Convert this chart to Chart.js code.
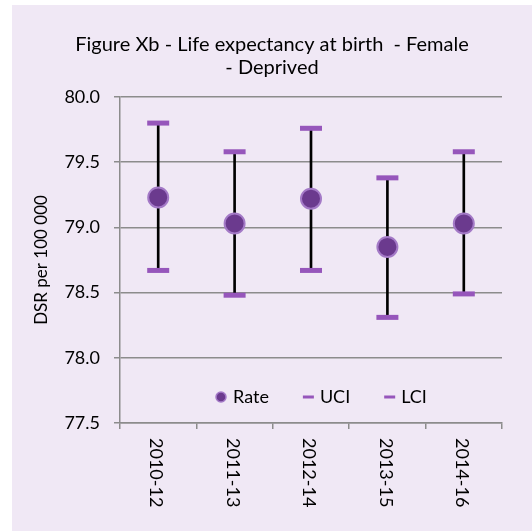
<!DOCTYPE html>
<html>
<head>
<meta charset="utf-8">
<script src="https://cdn.jsdelivr.net/npm/chart.js@4.4.1/dist/chart.umd.min.js"></script>
<style>
  body { margin: 0; background: #ffffff; overflow: hidden; }
  #wrap { position: absolute; left: 12px; top: 5px; width: 520px; height: 526px; background: #f0e8f5; }
</style>
</head>
<body>
<div id="wrap"><canvas id="myChart" width="520" height="526"></canvas></div>
<script>
// data
const periods = ['2010-12', '2011-13', '2012-14', '2013-15', '2014-16'];
const rate = [79.23, 79.03, 79.22, 78.85, 79.03];
const uci = [79.80, 79.58, 79.76, 79.38, 79.58];
const lci = [78.67, 78.48, 78.67, 78.31, 78.49];

const FONT = 'Lato, "Open Sans", sans-serif';
const markerFill = '#6b3a8e';
const markerEdge = '#a47ac7';
const capColor = '#9656bb';
const gridColor = '#8c8c8c';

// error bar stems as floating bars from LCI to UCI
const stems = periods.map((_, i) => [lci[i], uci[i]]);

// draws the x labels top-to-bottom and the legend inside the plot
const extras = {
    id: 'extras',
    afterDraw(chart) {
        const ctx = chart.ctx;
        const xs = chart.scales.x;
        ctx.save();
        ctx.fillStyle = '#000';
        ctx.font = '18px ' + FONT;
        ctx.textAlign = 'left';
        ctx.textBaseline = 'middle';
        periods.forEach((p, i) => {
            ctx.save();
            ctx.translate(xs.getPixelForValue(i) - 2, xs.top + 15);
            ctx.rotate(Math.PI / 2);
            ctx.fillText(p, 0, 0);
            ctx.restore();
        });

        // legend
        const items = chart.data.datasets.filter(d => d.label);
        let x = chart.chartArea.left + 96;
        const y = chart.chartArea.bottom - 26;
        items.forEach(d => {
            if (d.pointStyle === 'circle') {
                ctx.beginPath();
                ctx.arc(x + 5, y, 5, 0, Math.PI * 2);
                ctx.fillStyle = markerFill;
                ctx.fill();
                ctx.lineWidth = 1.5;
                ctx.strokeStyle = markerEdge;
                ctx.stroke();
            } else {
                ctx.fillStyle = capColor;
                ctx.fillRect(x, y - 1.5, 11, 3);
            }
            ctx.fillStyle = '#000';
            ctx.fillText(d.label, x + 17, y);
            x += 17 + ctx.measureText(d.label).width + 34;
        });
        ctx.restore();
    }
};

const data = {
    labels: periods,
    datasets: [
        {
            label: 'Rate',
            type: 'line',
            data: rate,
            showLine: false,
            pointStyle: 'circle',
            pointRadius: 10,
            pointBorderWidth: 2,
            pointBackgroundColor: markerFill,
            pointBorderColor: markerEdge,
            order: 1
        },
        {
            label: 'UCI',
            type: 'line',
            data: uci,
            showLine: false,
            pointStyle: 'line',
            pointRadius: 11,
            pointBorderWidth: 5,
            pointBorderColor: capColor,
            order: 2
        },
        {
            label: 'LCI',
            type: 'line',
            data: lci,
            showLine: false,
            pointStyle: 'line',
            pointRadius: 11,
            pointBorderWidth: 5,
            pointBorderColor: capColor,
            order: 2
        },
        {
            type: 'bar',
            data: stems,
            backgroundColor: '#000',
            barThickness: 2,
            order: 3
        }
    ]
};

const config = {
    type: 'bar',
    data: data,
    options: {
        responsive: false,
        animation: false,
        events: [],
        layout: { padding: 0 },
        plugins: {
            legend: { display: false },
            tooltip: { enabled: false },
            title: {
                display: true,
                text: ['Figure Xb - Life expectancy at birth  - Female', '- Deprived'],
                color: '#000',
                font: { family: FONT, size: 20, weight: 'normal', lineHeight: 1.15 },
                padding: { top: 28.5, bottom: 17.5 }
            }
        },
        scales: {
            x: {
                offset: true,
                grid: { drawOnChartArea: false, offset: true, tickLength: 6, color: gridColor, lineWidth: 1.5 },
                border: { color: gridColor, width: 1.5 },
                ticks: { display: false },
                afterFit: scale => { scale.height = 108; }
            },
            y: {
                min: 77.5,
                max: 80,
                grid: { color: gridColor, lineWidth: 1.5, tickLength: 6 },
                border: { color: gridColor, width: 1.5 },
                ticks: {
                    stepSize: 0.5,
                    padding: 14,
                    color: '#000',
                    font: { family: FONT, size: 18 },
                    callback: v => v.toFixed(1)
                },
                title: {
                    display: true,
                    text: 'DSR per 100 000',
                    color: '#000',
                    font: { family: FONT, size: 17 },
                    padding: { top: 19, bottom: 0 }
                },
                afterFit: scale => { scale.width = 108; }
            },
            // empty right margin so the title stays centred on the whole frame
            yRight: {
                position: 'right',
                grid: { display: false },
                border: { display: false },
                ticks: { display: false },
                afterFit: scale => { scale.width = 30; }
            }
        }
    },
    plugins: [extras]
};

const myChart = new Chart(document.getElementById('myChart'), config);
</script>
</body>
</html>
